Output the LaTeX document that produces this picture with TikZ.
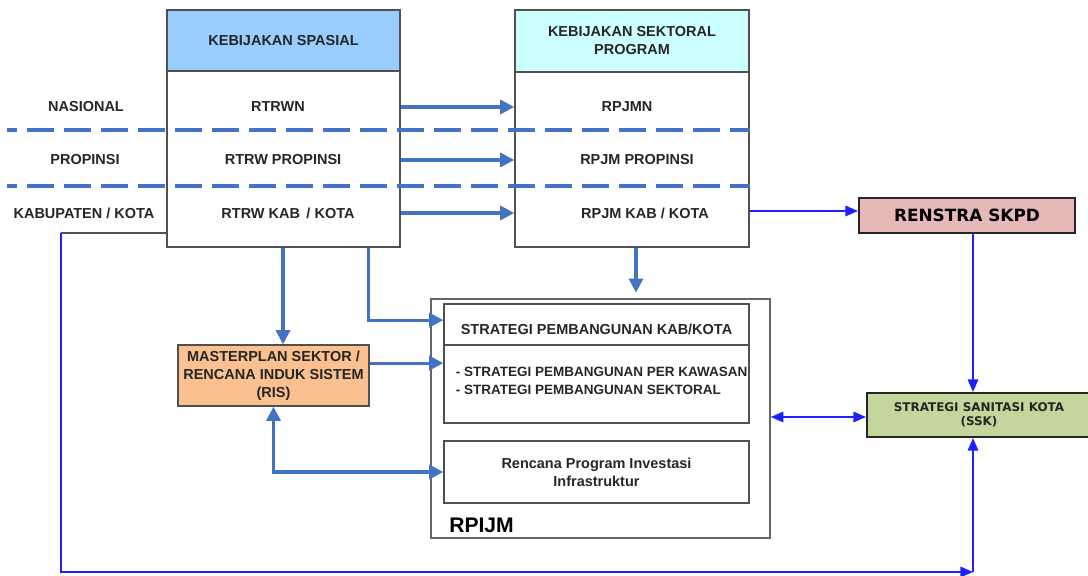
\documentclass[tikz,border=0pt]{standalone}
\usepackage{fontspec}
\setmainfont{Liberation Sans}
\newfontfamily\dejavu{DejaVu Sans}
\usetikzlibrary{arrows.meta,positioning}

\definecolor{garisbiru}{HTML}{4472C4}
\definecolor{birutua}{HTML}{1F1FFF}
\definecolor{garisabu}{HTML}{505050}
\definecolor{spasialbiru}{HTML}{99CCFF}
\definecolor{sektoralbiru}{HTML}{CCFFFF}
\definecolor{renstramerah}{HTML}{E6B9B8}
\definecolor{sskhijau}{HTML}{C3D69B}
\definecolor{masteroranye}{HTML}{FAC090}

\tikzset{
  kotak/.style={draw=garisabu, line width=1pt, inner sep=0pt, align=center},
  teks/.style={font=\fontsize{10.3}{12.8}\selectfont\bfseries, text=black!85, align=center},
  panahtebal/.style={draw=garisbiru, line width=2.2pt, -{Triangle[length=10pt,width=10pt]}},
  panahtipis/.style={draw=birutua, line width=1.1pt, -{Triangle[length=9pt,width=7.5pt]}},
  garisputus/.style={draw=garisbiru, line width=2.2pt, dash pattern=on 0.675cm off 0.25cm, dash phase=0.425cm},
}

\begin{document}
\begin{tikzpicture}[x=0.025cm, y=-0.025cm]
    \useasboundingbox (0,0) rectangle (1088,576);
    % Kolom kebijakan
    \node[kotak, fill=white, minimum width=5.825cm, minimum height=5.925cm] (spasial) at (283.5,128.5) {};
    \node[kotak, teks, fill=spasialbiru, minimum width=5.825cm, minimum height=1.525cm, anchor=north] (spasialkepala) at (spasial.north) {KEBIJAKAN SPASIAL};
    \node[kotak, fill=white, minimum width=5.85cm, minimum height=5.925cm] (sektoral) at (632,128.5) {};
    \node[kotak, teks, fill=sektoralbiru, minimum width=5.85cm, minimum height=1.55cm, anchor=north] (sektoralkepala) at (sektoral.north) {KEBIJAKAN SEKTORAL\\PROGRAM};
    % Tingkat
    \node[teks] (nasional) at (86,107) {NASIONAL};
    \node[teks] (propinsi) at (85,160) {PROPINSI};
    \node[teks] (kabkota) at (84,213) {KABUPATEN / KOTA};
    \node[teks] (rtrwn) at (278,107) {RTRWN};
    \node[teks] (rtrwprop) at (283,160) {RTRW PROPINSI};
    \node[teks] (rtrwkab) at (288,213) {RTRW KAB \,/ KOTA};
    \node[teks] (rpjmn) at (627,107) {RPJMN};
    \node[teks] (rpjmprop) at (637,160) {RPJM PROPINSI};
    \node[teks] (rpjmkab) at (645,213) {RPJM KAB / KOTA};
    % Garis putus
    \draw[garisputus] (7,130) -- (750,130);
    \draw[garisputus] (7,186) -- (750,186);
    % Kotak kanan
    \node[kotak, draw=black!85, line width=1.4pt, fill=renstramerah, minimum width=5.4cm, minimum height=0.875cm, font=\dejavu\bfseries\fontsize{12}{14}\selectfont] (renstra) at (967,215.5) {RENSTRA SKPD};
    \node[kotak, draw=black!85, line width=1.4pt, fill=sskhijau, minimum width=5.6cm, minimum height=1.1cm, font=\dejavu\bfseries\fontsize{8.5}{10}\selectfont, text=black!85] (ssk) at (979,415) {STRATEGI SANITASI KOTA\\(SSK)};
    \node[kotak, teks, fill=masteroranye, minimum width=4.775cm, minimum height=1.525cm] (master) at (273.5,375.5) {MASTERPLAN SEKTOR /\\RENCANA INDUK SISTEM\\(RIS)};
    % RPIJM
    \node[kotak, draw=black!60, minimum width=8.475cm, minimum height=5.975cm] (rpijm) at (600.5,418.5) {};
    \node[kotak, teks, minimum width=7.625cm, minimum height=1.025cm, text height=14pt] (stratkab) at (596.5,324.5) {STRATEGI PEMBANGUNAN KAB/KOTA};
    \node[kotak, minimum width=7.625cm, minimum height=1.95cm] (stratrinci) at (596.5,384) {};
    \node[teks, align=left, anchor=west, font=\fontsize{9.6}{12.8}\selectfont\bfseries] (rinciteks) at (451,381) {- STRATEGI PEMBANGUNAN PER KAWASAN\\- STRATEGI PEMBANGUNAN SEKTORAL};
    \node[kotak, teks, minimum width=7.625cm, minimum height=1.55cm] (rencana) at (596.5,472) {Rencana Program Investasi\\Infrastruktur};
    \node[anchor=west, inner sep=0pt, font=\fontsize{15}{18}\selectfont\bfseries] (rpijmlabel) at (449,525) {RPIJM};
    % Panah antar kolom
    \draw[panahtebal] (rtrwn -| spasial.east) -- (rtrwn -| sektoral.west);
    \draw[panahtebal] (rtrwprop -| spasial.east) -- (rtrwprop -| sektoral.west);
    \draw[panahtebal] (rtrwkab -| spasial.east) -- (rtrwkab -| sektoral.west);
    % Panah ke bawah
    \draw[panahtebal] (rtrwprop |- spasial.south) -- (rtrwprop |- master.north);
    \draw[panahtebal] ([xshift=-0.8cm]spasial.south east) |- ([yshift=0.11cm]stratkab.west);
    \draw[panahtebal] ([yshift=0.31cm]master.east) -- ([yshift=0.31cm]master.east -| stratrinci.west);
    \draw[panahtebal, {Triangle[length=10pt,width=10pt]}-{Triangle[length=10pt,width=10pt]}] (master.south) |- (rencana.west);
    \draw[panahtebal, shorten >=4pt] ([xshift=0.1cm]sektoral.south) -- ([xshift=0.1cm]sektoral.south |- rpijm.north);
    % Panah biru tipis
    \draw[panahtipis] ([yshift=0.05cm]rpjmkab -| sektoral.east) -- ([yshift=0.05cm]rpjmkab -| renstra.west);
    \draw[panahtipis] ([xshift=-0.15cm]ssk.north |- renstra.south) -- ([xshift=-0.15cm]ssk.north);
    \draw[panahtipis, {Triangle[length=9pt,width=7.5pt]}-{Triangle[length=9pt,width=7.5pt]}] ([yshift=-0.05cm]ssk.west) -- ([yshift=-0.05cm]ssk.west -| rpijm.east);
    % Garis kabupaten ke SSK
    \coordinate (kiri) at (61,233);
    \coordinate (bawah) at (61,572);
    \coordinate (pojok) at ([xshift=-0.15cm]ssk.south |- bawah);
    \draw[garisabu, line width=1pt] (kiri -| spasial.west) -- (kiri);
    \draw[panahtipis] (kiri) -- (bawah) -- (pojok);
    \draw[panahtipis] (pojok) -- ([xshift=-0.15cm]ssk.south);
\end{tikzpicture}
\end{document}
